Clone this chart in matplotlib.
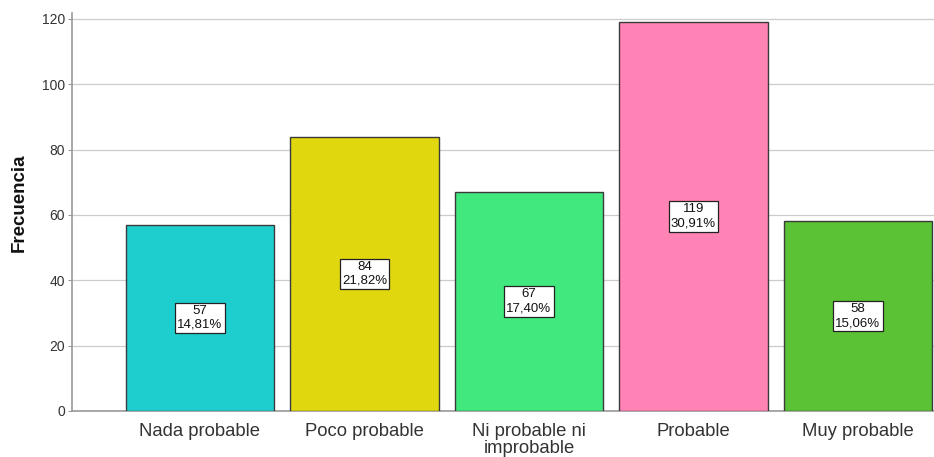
import matplotlib
matplotlib.use("Agg")
import matplotlib.pyplot as plt

plt.rcParams['font.family'] = ['Liberation Sans', 'DejaVu Sans']

categories = ["Nada probable", "Poco probable", "Ni probable ni\nimprobable", "Probable", "Muy probable"]
counts = [57, 84, 67, 119, 58]
percents = ["14,81%", "21,82%", "17,40%", "30,91%", "15,06%"]
colors = ["#1ECECE", "#E1D70F", "#41E87E", "#FF83B4", "#5BC236"]

fig = plt.figure(figsize=(9.34, 4.57), dpi=100)
ax = fig.add_axes([72/934, 1 - 411/457, 1 - 72/934, (411 - 13)/457])

x = list(range(len(categories)))
ax.bar(x, counts, width=0.9, color=colors, edgecolor="#3a3a3a", linewidth=1.0, zorder=3)

for xi, c, p in zip(x, counts, percents):
    ax.text(xi, c / 2, f"{c}\n{p}", ha="center", va="center", fontsize=9.5,
            linespacing=1.25, color="#111111", zorder=4,
            bbox=dict(boxstyle="square,pad=0.15", facecolor="white",
                      edgecolor="#222222", linewidth=0.9))

ax.set_xlim(-0.778, 4.462)
ax.set_ylim(0, 121.8)
ax.set_yticks([0, 20, 40, 60, 80, 100, 120])
ax.set_xticks(x)
ax.set_xticklabels(categories, fontsize=13.3, color="#333333", linespacing=0.95)
ax.tick_params(axis="x", length=0, pad=9)
ax.tick_params(axis="y", length=3, width=0.8, color="#999999", labelsize=10,
               labelcolor="#333333", pad=2)

ax.yaxis.grid(True, color="#cccccc", linewidth=0.9, zorder=0)
ax.set_axisbelow(True)
for side in ["top", "right"]:
    ax.spines[side].set_visible(False)
ax.spines["left"].set_color("#999999")
ax.spines["bottom"].set_color("#999999")
ax.spines["left"].set_linewidth(1.2)
ax.spines["bottom"].set_linewidth(1.2)

ax.set_ylabel("Frecuencia", fontsize=13.5, fontweight="bold", color="#111111")
ax.yaxis.set_label_coords(-44/862, (411 - 203)/398)

fig.savefig("out.png", dpi=100)
